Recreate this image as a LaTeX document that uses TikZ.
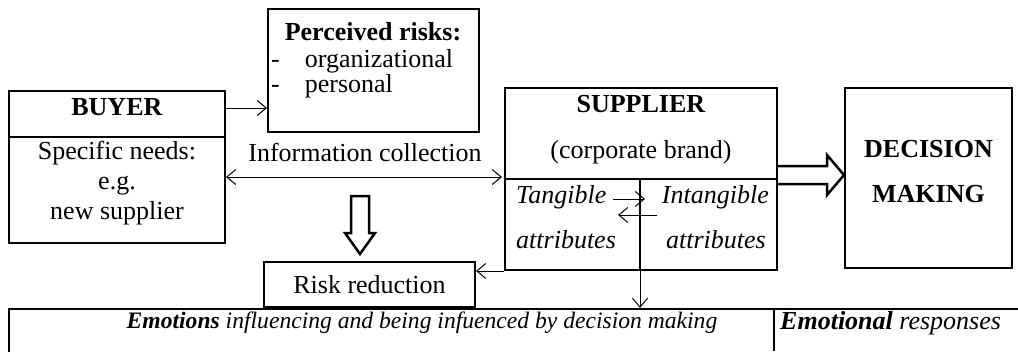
\documentclass[tikz,border=0pt]{standalone}
\usepackage{fontspec}
\setmainfont{Liberation Serif}
\usetikzlibrary{arrows.meta,positioning,calc}

\tikzset{
  box/.style={draw, line width=2pt, inner sep=0pt},
  txt/.style={inner sep=0pt, font=\fontsize{26}{30}\selectfont},
  conn/.style={line width=1pt, -{Straight Barb[length=9pt,width=15pt]}},
  hollow/.style={draw, line width=2.5pt, fill=white, line join=miter}
}

\begin{document}
\begin{tikzpicture}[x=1pt, y=-1pt]
    \useasboundingbox (0,0) rectangle (1018,351);

    % Boxes
    \node[box, minimum width=216, minimum height=152] (buyer) at (117,167) {};
    \node[box, minimum width=211, minimum height=123] (risks) at (373.5,70.5) {};
    \node[box, minimum width=272, minimum height=182] (sup) at (641,179) {};
    \node[box, minimum width=167, minimum height=180] (dec) at (928.5,178) {};
    \node[box, minimum width=211, minimum height=45] (red) at (369.5,284.5) {};
    \node[box, minimum width=1021, minimum height=71] (emo) at (519.5,344.5) {};

    % Dividers
    \draw[line width=2pt] (buyer.west |- 0,137) -- (buyer.east |- 0,137);
    \draw[line width=2pt] (sup.west) -- (sup.east);
    \coordinate (mid) at (640,179);
    \draw[line width=2pt] (mid) -- (mid |- sup.south);
    \draw[line width=2pt] (emo.north -| 774,0) -- (774,351);

    % Texts
    \node[txt] (buyerT) at (117,107) {\textbf{BUYER}};
    \node[txt, align=center] (needs) at (117,183) {Specific needs:\\e.g.\\new supplier};
    \node[txt] (risksT) at (373,32) {\textbf{Perceived risks:}};
    \node[txt, anchor=west, align=left, font=\fontsize{26}{23}\selectfont] (kinds) at (271,74) {-\hspace{25pt}organizational\\-\hspace{25pt}personal};
    \node[txt] (info) at (365,152) {Information collection};
    \node[txt] (supT) at (641,104) {\textbf{SUPPLIER}};
    \node[txt] (brand) at (641,152) {(corporate brand)};
    \node[txt, anchor=west] (tang) at (516,197) {\textit{Tangible}};
    \node[txt, anchor=west] (tangA) at (516,240) {\textit{attributes}};
    \node[txt, anchor=east] (intang) at (769,197) {\textit{Intangible}};
    \node[txt, anchor=east] (intangA) at (766,240) {\textit{attributes}};
    \node[txt] (decT) at (928.5,149) {\textbf{DECISION}};
    \node[txt] (makT) at (928.5,194) {\textbf{MAKING}};
    \node[txt] (redT) at (red) {Risk reduction};
    \node[txt, font=\fontsize{23.6}{28}\selectfont] (emoT) at (422,323) {\textit{\textbf{Emotions} influencing and being infuenced by decision making}};
    \node[txt, anchor=west] (respT) at (780,323) {\textit{\textbf{Emotional} responses}};

    % Connectors
    \draw[conn] (buyer.east |- 0,108) -- (risks.west |- 0,108);
    \draw[conn, {Straight Barb[length=9pt,width=15pt]}-{Straight Barb[length=9pt,width=15pt]}] (buyer.east |- 0,177) -- ([xshift=-2pt]sup.west |- 0,177);
    \draw[conn] (613,199) -- (645,199);
    \draw[conn] (657,215) -- (618,215);
    \draw[conn] (sup.south west) -- (red.east |- sup.south west);
    \draw[conn] (mid |- sup.south) -- (mid |- emo.north);

    % Hollow arrows
    \draw[hollow] (sup.east |- 0,166) -- (827,166) -- (827,155) -- (dec.west |- 0,175)
        -- (827,195) -- (827,184) -- (sup.east |- 0,184);
    \draw[hollow] (351,196) -- (351,233) -- (345,233) -- (360,254) -- (375,233)
        -- (369,233) -- (369,196) -- cycle;

\end{tikzpicture}
\end{document}
